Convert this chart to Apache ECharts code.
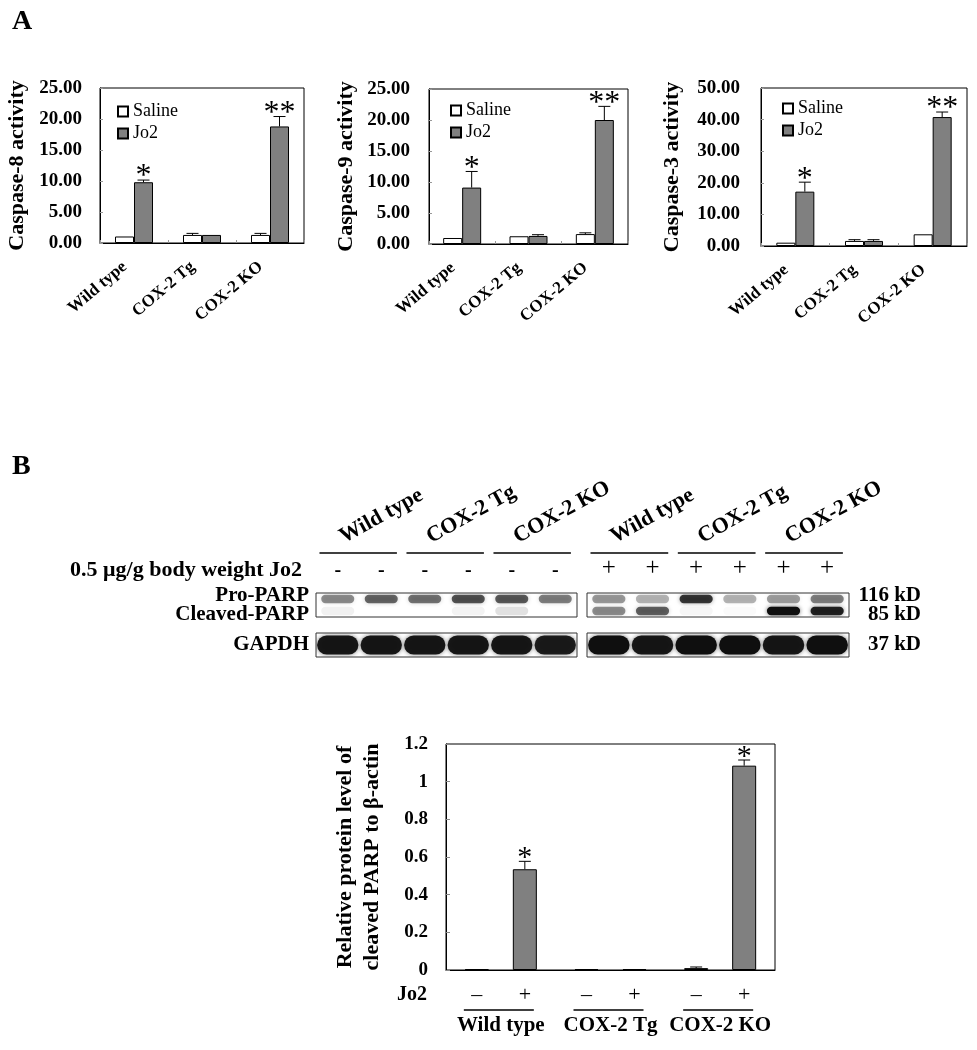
<!DOCTYPE html>
<html>
<head>
<meta charset="utf-8">
<script src="https://cdn.jsdelivr.net/npm/echarts@6/dist/echarts.min.js"></script>
<style>
html, body { margin: 0; padding: 0; background: #fff; }
#chart { width: 977px; height: 1050px; }
</style>
</head>
<body>
<div id="chart"></div>
<script>
var groups = ['Wild type', 'COX-2 Tg', 'COX-2 KO'];

// panel A - caspase activities
var casp8Saline = [1.05, 1.3, 1.3];
var casp8SalineErr = [0, 0.25, 0.25];
var casp8Jo2 = [9.8, 1.3, 18.8];
var casp8Jo2Err = [0.35, 0, 1.6];
var casp8Marks = ['*', '', '**'];

var casp9Saline = [0.97, 1.25, 1.6];
var casp9SalineErr = [0, 0, 0.2];
var casp9Jo2 = [9.1, 1.3, 20.0];
var casp9Jo2Err = [2.6, 0.2, 2.2];
var casp9Marks = ['*', '', '**'];

var casp3Saline = [1.05, 1.6, 3.7];
var casp3SalineErr = [0, 0.4, 0];
var casp3Jo2 = [17.2, 1.6, 40.8];
var casp3Jo2Err = [3.0, 0.4, 1.6];
var casp3Marks = ['*', '', '**'];

// panel B - western blot (band intensity 0..1 per lane)
var blotGroups = ['Wild type', 'COX-2 Tg', 'COX-2 KO'];
var laneNames = ['lane 1', 'lane 2', 'lane 3', 'lane 4', 'lane 5', 'lane 6'];
var jo2Signs = ['-', '-', '-', '-', '-', '-', '+', '+', '+', '+', '+', '+'];
var proParp = [0.45, 0.6, 0.55, 0.68, 0.65, 0.5, 0.4, 0.3, 0.8, 0.3, 0.38, 0.5];
var cleavedParp = [0.06, 0, 0, 0.05, 0.12, 0, 0.45, 0.62, 0.04, 0.02, 1.0, 0.9];
var gapdh = [0.95, 0.95, 0.95, 0.95, 0.95, 0.92, 1, 0.95, 1, 1, 0.95, 1];

// panel B - quantification
var parpMinus = [0.005, 0.005, 0.01];
var parpMinusErr = [0, 0, 0.006];
var parpPlus = [0.535, 0.005, 1.085];
var parpPlusErr = [0.042, 0, 0.03];
var parpMarks = ['*', '', '*'];

var chart = echarts.init(document.getElementById('chart'));
var SERIF = '"Liberation Serif", "Times New Roman", serif';

function boxGrid(l, t, w, h, border) {
    return {
        left: l, top: t, width: w, height: h,
        show: true, borderColor: border || '#000', borderWidth: 1,
        containLabel: false, outerBoundsMode: 'none'
    };
}

var caspCharts = [
    { name: 'Caspase-8 activity', saline: casp8Saline, salineErr: casp8SalineErr, jo2: casp8Jo2, jo2Err: casp8Jo2Err, marks: casp8Marks,
      max: 25, step: 5, box: [100, 88, 204, 155], nameGap: 72, labelMargin: 18, legend: [112, 97] },
    { name: 'Caspase-9 activity', saline: casp9Saline, salineErr: casp9SalineErr, jo2: casp9Jo2, jo2Err: casp9Jo2Err, marks: casp9Marks,
      max: 25, step: 5, box: [429, 89, 199, 155], nameGap: 72, labelMargin: 19, legend: [445, 96] },
    { name: 'Caspase-3 activity', saline: casp3Saline, salineErr: casp3SalineErr, jo2: casp3Jo2, jo2Err: casp3Jo2Err, marks: casp3Marks,
      max: 50, step: 10, box: [761, 88, 206, 158], nameGap: 78, labelMargin: 21, legend: [777, 94] }
];

var grids = [], xAxes = [], yAxes = [], series = [], legends = [];
var BW = 19;

caspCharts.forEach(function (c, k) {
    grids.push(boxGrid(c.box[0], c.box[1], c.box[2], c.box[3]));
    xAxes.push({
        gridIndex: k, type: 'category', data: groups,
        axisLine: { show: true, lineStyle: { color: '#000', width: 1 } },
        axisTick: { show: true, inside: true, length: 3, lineStyle: { color: '#999' } },
        axisLabel: { interval: 0, rotate: 40, margin: 14, padding: [0, 12, 0, 0],
            fontFamily: SERIF, fontWeight: 'bold', fontSize: 17, color: '#000' }
    });
    yAxes.push({
        gridIndex: k, type: 'value', min: 0, max: c.max, interval: c.step,
        name: c.name, nameLocation: 'middle', nameGap: c.nameGap, nameRotate: 90,
        nameTextStyle: { fontFamily: SERIF, fontWeight: 'bold', fontSize: 22, color: '#000' },
        axisLine: { show: true, lineStyle: { color: '#000' } },
        axisTick: { show: true, inside: true, length: 3, lineStyle: { color: '#999' } },
        splitLine: { show: false },
        axisLabel: { margin: c.labelMargin, fontFamily: SERIF, fontWeight: 'bold', fontSize: 19, color: '#000',
            formatter: function (v) { return v.toFixed(2); } }
    });
    series.push({
        type: 'bar', name: 'Saline', xAxisIndex: k, yAxisIndex: k, data: c.saline,
        barWidth: BW, barGap: '0%',
        itemStyle: { color: '#fff', borderColor: '#000', borderWidth: 1 }
    });
    series.push({
        type: 'bar', name: 'Jo2', xAxisIndex: k, yAxisIndex: k, data: c.jo2,
        barWidth: BW, barGap: '0%',
        itemStyle: { color: '#808080', borderColor: '#000', borderWidth: 1 }
    });
    series.push({
        type: 'custom', xAxisIndex: k, yAxisIndex: k, z: 5, clip: false, silent: true,
        data: groups.map(function (g, i) { return [i, c.jo2[i] + c.jo2Err[i]]; }),
        renderItem: function (params, api) {
            var i = params.dataIndex;
            var children = [];
            var bars = [[c.saline[i], c.salineErr[i], -BW / 2], [c.jo2[i], c.jo2Err[i], BW / 2]];
            var topY = 0, xJo2 = 0;
            bars.forEach(function (b) {
                var p0 = api.coord([i, b[0]]);
                var p1 = api.coord([i, b[0] + b[1]]);
                var x = p0[0] + b[2];
                if (b[1] > 0) {
                    children.push({ type: 'line', shape: { x1: x, y1: p0[1], x2: x, y2: p1[1] }, style: { stroke: '#000', lineWidth: 1 } });
                    children.push({ type: 'line', shape: { x1: x - 6, y1: p1[1], x2: x + 6, y2: p1[1] }, style: { stroke: '#000', lineWidth: 1 } });
                }
                topY = p1[1]; xJo2 = x;
            });
            if (c.marks[i]) {
                children.push({ type: 'text', x: xJo2, y: topY - 3,
                    style: { text: c.marks[i], align: 'center', verticalAlign: 'middle', font: '32px ' + SERIF, fill: '#000' } });
            }
            return { type: 'group', children: children };
        }
    });
    legends.push({
        data: ['Saline', 'Jo2'], orient: 'vertical', left: c.legend[0], top: c.legend[1],
        itemWidth: 10, itemHeight: 10, itemGap: 3, icon: 'rect', selectedMode: false,
        textStyle: { fontFamily: SERIF, fontSize: 18, color: '#000', lineHeight: 19 }
    });
});

// ---------- western blot ----------
var blotBoxes = [
    { left: 316, width: 261 },
    { left: 587, width: 262 }
];
var rich = {
    m: { fontFamily: SERIF, fontWeight: 'bold', fontSize: 20, color: '#000' },
    p: { fontFamily: SERIF, fontSize: 25, color: '#000' }
};
var rowLabelStyle = { fontFamily: SERIF, fontWeight: 'bold', fontSize: 21, color: '#000' };
var rowRich = {
    u: Object.assign({ padding: [0, 0, 7, 0] }, rowLabelStyle),
    d: Object.assign({ padding: [7, 0, 0, 0] }, rowLabelStyle)
};

function bandRenderer(wFrac, hFrac) {
    return function (params, api) {
        var v = api.value(2);
        if (!v) return null;
        var c = api.coord([api.value(0), api.value(1)]);
        var s = api.size([1, 1]);
        var w = s[0] * wFrac, h = s[1] * hFrac;
        var col = 'rgba(15,15,15,' + v + ')';
        return {
            type: 'rect',
            shape: { x: c[0] - w / 2, y: c[1] - h / 2, width: w, height: h, r: h / 2 },
            style: { fill: col, shadowBlur: 4, shadowColor: 'rgba(15,15,15,' + (v * 0.6) + ')' }
        };
    };
}

blotBoxes.forEach(function (b, side) {
    var gParp = grids.length;
    grids.push(boxGrid(b.left, 593, b.width, 24, '#333'));
    var gGapdh = grids.length;
    grids.push(boxGrid(b.left, 633, b.width, 24, '#333'));

    xAxes.push({
        gridIndex: gParp, type: 'category', data: laneNames, position: 'top',
        axisLine: { show: false }, axisTick: { show: false },
        axisLabel: { interval: 0, margin: 12,
            formatter: function (v, idx) {
                var s = jo2Signs[side * 6 + idx];
                return s === '+' ? '{p|+}' : '{m|-}';
            }, rich: rich }
    });
    xAxes.push({
        gridIndex: gGapdh, type: 'category', data: laneNames,
        axisLine: { show: false }, axisTick: { show: false }, axisLabel: { show: false }
    });
    yAxes.push({
        gridIndex: gParp, type: 'category',
        data: side === 0 ? ['Cleaved-PARP', 'Pro-PARP'] : ['85 kD', '116 kD'],
        position: side === 0 ? 'left' : 'right',
        axisLine: { show: false }, axisTick: { show: false },
        axisLabel: { interval: 0, hideOverlap: false, margin: side === 0 ? 7 : 72, align: 'right',
            formatter: function (v, idx) { return idx === 1 ? '{u|' + v + '}' : '{d|' + v + '}'; },
            rich: rowRich }
    });
    yAxes.push({
        gridIndex: gGapdh, type: 'category',
        data: side === 0 ? ['GAPDH'] : ['37 kD'],
        position: side === 0 ? 'left' : 'right',
        axisLine: { show: false }, axisTick: { show: false },
        axisLabel: Object.assign({ interval: 0, margin: side === 0 ? 7 : 72, align: 'right' }, rowLabelStyle)
    });

    var parpData = [], gapdhData = [];
    for (var i = 0; i < 6; i++) {
        var lane = side * 6 + i;
        parpData.push([i, 1, proParp[lane]]);
        parpData.push([i, 0, cleavedParp[lane]]);
        gapdhData.push([i, 0, gapdh[lane]]);
    }
    series.push({ type: 'custom', xAxisIndex: gParp, yAxisIndex: gParp, clip: true, silent: true,
        data: parpData, renderItem: bandRenderer(0.76, 0.7) });
    series.push({ type: 'custom', xAxisIndex: gGapdh, yAxisIndex: gGapdh, clip: true, silent: true,
        data: gapdhData, renderItem: bandRenderer(0.95, 0.8) });

    // group header lines + rotated labels
    series.push({
        type: 'custom', xAxisIndex: gParp, yAxisIndex: gParp, clip: false, silent: true,
        data: blotGroups.map(function (g, k) { return [2 * k, 1]; }),
        renderItem: function (params, api) {
            var k = params.dataIndex;
            var ca = api.coord([2 * k, 1]);
            var cb = api.coord([2 * k + 1, 1]);
            var w = api.size([1, 1])[0];
            var ly = params.coordSys.y - 40;
            var x0 = ca[0] - 0.42 * w, x1 = cb[0] + 0.36 * w;
            return { type: 'group', children: [
                { type: 'line', shape: { x1: x0, y1: ly, x2: x1, y2: ly }, style: { stroke: '#000', lineWidth: 1.5 } },
                { type: 'text', x: x0 + 27, y: ly - 5, rotation: 29 * Math.PI / 180,
                  style: { text: blotGroups[k], align: 'left', verticalAlign: 'bottom', font: 'bold 22px ' + SERIF, fill: '#000' } }
            ] };
        }
    });
});

// ---------- PARP quantification ----------
var gq = grids.length;
grids.push(boxGrid(446, 744, 329, 226));
var BW2 = 24;
xAxes.push({
    gridIndex: gq, type: 'category', data: groups,
    axisLine: { show: true, lineStyle: { color: '#000' } },
    axisTick: { show: false },
    axisLabel: { interval: 0, margin: 45, fontFamily: SERIF, fontWeight: 'bold', fontSize: 21, color: '#000' }
});
yAxes.push({
    gridIndex: gq, type: 'value', min: 0, max: 1.2, interval: 0.2,
    name: 'Relative protein level of\ncleaved PARP to \u03b2-actin',
    nameLocation: 'middle', nameGap: 60, nameRotate: 90,
    nameTextStyle: { fontFamily: SERIF, fontWeight: 'bold', fontSize: 22, lineHeight: 27, color: '#000' },
    axisLine: { show: true, lineStyle: { color: '#000' } },
    axisTick: { show: true, inside: true, length: 4, lineStyle: { color: '#888' } },
    splitLine: { show: false },
    axisLabel: { margin: 18, fontFamily: SERIF, fontWeight: 'bold', fontSize: 19, color: '#000' }
});
series.push({
    type: 'bar', name: 'Jo2 -', xAxisIndex: gq, yAxisIndex: gq, data: parpMinus,
    barWidth: BW2, barGap: '100%',
    itemStyle: { color: '#808080', borderColor: '#000', borderWidth: 1 }
});
series.push({
    type: 'bar', name: 'Jo2 +', xAxisIndex: gq, yAxisIndex: gq, data: parpPlus,
    barWidth: BW2, barGap: '100%',
    itemStyle: { color: '#808080', borderColor: '#000', borderWidth: 1 }
});
series.push({
    type: 'custom', xAxisIndex: gq, yAxisIndex: gq, z: 5, clip: false, silent: true,
    data: groups.map(function (g, i) { return [i, parpPlus[i] + parpPlusErr[i]]; }),
    renderItem: function (params, api) {
        var i = params.dataIndex;
        var base = api.coord([i, 0]);
        var children = [];
        var bars = [[parpMinus[i], parpMinusErr[i], -BW2, '\u2013'], [parpPlus[i], parpPlusErr[i], BW2, '+']];
        var topY = 0, xPlus = 0;
        bars.forEach(function (b) {
            var p0 = api.coord([i, b[0]]);
            var p1 = api.coord([i, b[0] + b[1]]);
            var x = base[0] + b[2];
            if (b[1] > 0) {
                children.push({ type: 'line', shape: { x1: x, y1: p0[1], x2: x, y2: p1[1] }, style: { stroke: '#000', lineWidth: 1 } });
                children.push({ type: 'line', shape: { x1: x - 6, y1: p1[1], x2: x + 6, y2: p1[1] }, style: { stroke: '#000', lineWidth: 1 } });
            }
            children.push({ type: 'text', x: x, y: base[1] + 25,
                style: { text: b[3], align: 'center', verticalAlign: 'middle', font: '22px ' + SERIF, fill: '#000' } });
            topY = p1[1]; xPlus = x;
        });
        children.push({ type: 'line', shape: { x1: base[0] - 37, y1: base[1] + 40, x2: base[0] + 33, y2: base[1] + 40 },
            style: { stroke: '#000', lineWidth: 1.5 } });
        if (parpMarks[i]) {
            children.push({ type: 'text', x: xPlus, y: topY - 3,
                style: { text: parpMarks[i], align: 'center', verticalAlign: 'middle', font: '30px ' + SERIF, fill: '#000' } });
        }
        return { type: 'group', children: children };
    }
});

var option = {
    backgroundColor: '#fff',
    animation: false,
    grid: grids,
    xAxis: xAxes,
    yAxis: yAxes,
    legend: legends,
    series: series,
    graphic: [
        { type: 'text', x: 12, y: 22, style: { text: 'A', align: 'left', verticalAlign: 'middle', font: 'bold 28px ' + SERIF, fill: '#000' } },
        { type: 'text', x: 12, y: 467, style: { text: 'B', align: 'left', verticalAlign: 'middle', font: 'bold 28px ' + SERIF, fill: '#000' } },
        { type: 'text', x: 302, y: 570, style: { text: '0.5 \u03bcg/g body weight Jo2', align: 'right', verticalAlign: 'middle', font: 'bold 22px ' + SERIF, fill: '#000' } },
        { type: 'text', x: 427, y: 995, style: { text: 'Jo2', align: 'right', verticalAlign: 'middle', font: 'bold 20px ' + SERIF, fill: '#000' } }
    ]
};

chart.setOption(option);
</script>
</body>
</html>
